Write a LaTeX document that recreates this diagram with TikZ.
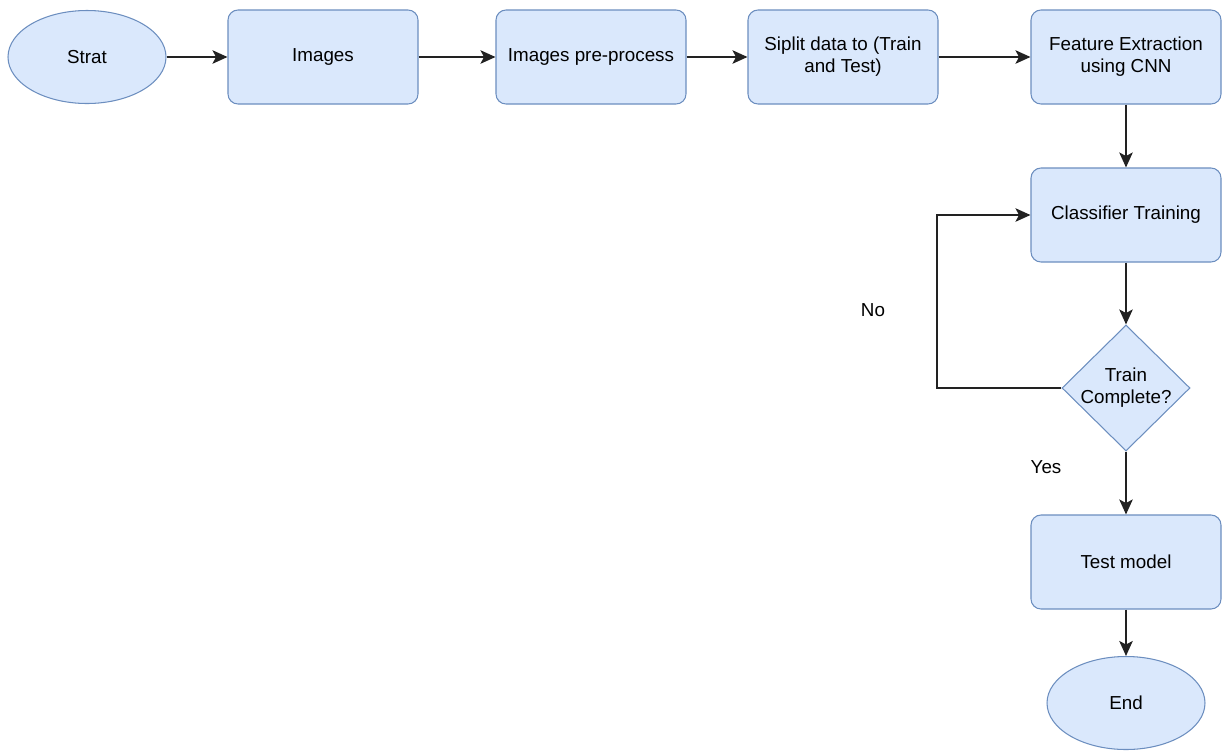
\documentclass[tikz,border=0pt]{standalone}
\usepackage{fontspec}
\setmainfont{Liberation Sans}
\usepackage{xcolor}
\definecolor{boxfill}{HTML}{DAE8FC}
\definecolor{boxline}{HTML}{6C8EBF}
\definecolor{edgeline}{HTML}{222222}
\usetikzlibrary{shapes.geometric, arrows.meta, positioning}

\begin{document}
\begin{tikzpicture}[
    font=\fontsize{10.7}{12.5}\selectfont,
    stepbox/.style={rectangle, draw=boxline, fill=boxfill, line width=0.6pt, rounded corners=0.2cm, minimum width=3.8cm, minimum height=1.88cm, align=center},
    terminal/.style={ellipse, draw=boxline, fill=boxfill, line width=0.6pt, minimum width=3.16cm, minimum height=1.86cm},
    decision/.style={diamond, draw=boxline, fill=boxfill, line width=0.6pt, minimum width=2.56cm, minimum height=2.52cm, inner sep=0pt},
    arrow/.style={draw=edgeline, line width=0.9pt, -{Stealth[length=3mm, width=2.7mm, inset=0.7mm]}}
]
    \useasboundingbox (0,0) rectangle (24.5,-15);

    % top row
    \node[terminal] (start) at (1.74,-1.14) {Strat};
    \node[stepbox] (images) at (6.46,-1.14) {Images};
    \node[stepbox] (prep) at (11.82,-1.14) {Images pre-process};
    \node[stepbox] (split) at (16.86,-1.14) {Siplit data to (Train\\and Test)};
    \node[stepbox] (feat) at (22.52,-1.14) {Feature Extraction\\using CNN};

    % right column
    \node[stepbox] (train) at (22.52,-4.30) {Classifier Training};
    \node[decision, label={[align=center]center:Train\\Complete?}] (done) at (22.52,-7.76) {};
    \node[stepbox] (test) at (22.52,-11.24) {Test model};
    \node[terminal] (stop) at (22.52,-14.06) {End};

    \node (no) at (17.46,-6.20) {No};
    \node (yes) at (20.92,-9.34) {Yes};
    \coordinate (loop) at (18.74,-7.76);

    \draw[arrow] (start) -- (images);
    \draw[arrow] (images) -- (prep);
    \draw[arrow] (prep) -- (split);
    \draw[arrow] (split) -- (feat);
    \draw[arrow] (feat) -- (train);
    \draw[arrow] (train) -- (done);
    \draw[arrow] (done.west) -- (loop) |- (train.west);
    \draw[arrow] (done) -- (test);
    \draw[arrow] (test) -- (stop);
\end{tikzpicture}
\end{document}
